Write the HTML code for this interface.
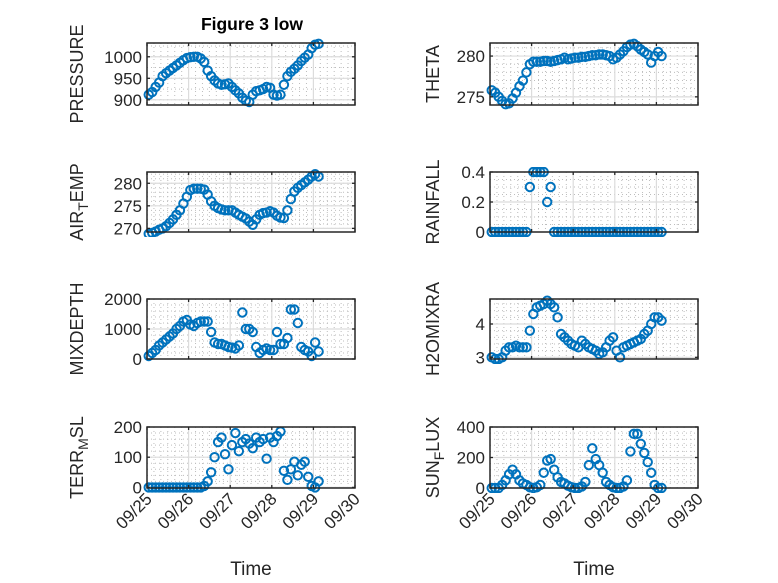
<!DOCTYPE html>
<html><head><meta charset="utf-8">
<style>
html,body{margin:0;padding:0;background:#fff;}
svg{display:block;font-family:"Liberation Sans",sans-serif;}
</style></head>
<body>
<svg id="fig" width="778" height="583" viewBox="0 0 778 583" xmlns="http://www.w3.org/2000/svg">
<rect width="778" height="583" fill="#fff"/>
<text x="252" y="30" text-anchor="middle" font-size="17.5" font-weight="bold" fill="#000">Figure 3 low</text>
</svg>
<script>
const hours = [1,3,5,7,9,11,13,15,17,19,21,23,25,27,29,31,33,35,37,39,41,43,45,47,49,51,53,55,57,59,61,63,65,67,69,71,73,75,77,79,81,83,85,87,89,91,93,95,97,99];
const xTickLabels = ["09/25","09/26","09/27","09/28","09/29","09/30"];
const pressure = [912,918,930,940,955,962,968,974,980,986,992,997,999,1000,1000,996,988,968,955,945,938,935,936,938,930,922,915,905,898,895,912,920,922,925,930,928,912,910,912,935,955,965,972,980,990,998,1005,1020,1028,1030];
const theta = [275.8,275.5,275,274.5,274.1,274.2,274.8,275.5,276.3,277,278,279,279.3,279.3,279.3,279.4,279.4,279.3,279.4,279.5,279.6,279.8,279.6,279.7,279.8,279.8,279.9,279.9,280,280.1,280.1,280.2,280.2,280.1,280,279.6,279.8,280.2,280.6,281.1,281.4,281.5,281.2,280.8,280.5,280.2,279.2,280,280.5,280];
const airTemp = [268.8,269,269.3,269.7,270,270.5,271.2,272,273,274,275.5,277,278.5,278.8,278.8,278.8,278.6,277.5,276,275,274.5,274.2,274,274,274,273.5,273,272.6,272.2,271.5,270.8,272,273,273.4,273.5,273.8,273.5,272.8,272.4,272.3,274,276.5,278.2,279,279.6,280.2,280.8,281.5,282,281.5];
const rainfall = [0,0,0,0,0,0,0,0,0,0,0,0.3,0.4,0.4,0.4,0.4,0.2,0.3,0,0,0,0,0,0,0,0,0,0,0,0,0,0,0,0,0,0,0,0,0,0,0,0,0,0,0,0,0,0,0,0];
const mixDepth = [100,200,300,450,550,650,750,850,1000,1100,1250,1300,1150,1100,1200,1250,1250,1250,900,550,500,500,450,400,380,350,450,1550,1000,1000,900,400,200,300,350,300,300,900,500,500,700,1650,1650,1200,400,300,250,100,550,250];
const h2oMix = [3.0,2.95,2.95,3.0,3.2,3.3,3.3,3.35,3.3,3.3,3.3,3.8,4.3,4.5,4.55,4.6,4.7,4.6,4.5,4.2,3.7,3.6,3.5,3.4,3.35,3.3,3.5,3.4,3.3,3.25,3.2,3.1,3.15,3.3,3.5,3.6,3.2,3.0,3.3,3.35,3.4,3.45,3.5,3.55,3.7,3.8,4.0,4.2,4.2,4.1];
const terrMsl = [0,0,0,0,0,0,0,0,0,0,0,0,0,0,0,0,5,20,50,100,150,165,110,60,140,180,120,150,160,145,130,165,150,160,95,165,150,170,185,55,25,60,85,40,75,85,35,5,0,20];
const sunFlux = [0,0,0,20,50,90,120,90,50,30,20,5,0,5,20,100,180,190,120,70,40,30,15,5,0,0,10,40,150,260,190,150,100,40,20,5,0,0,10,50,240,355,355,290,230,170,100,20,0,0];
const yTicksPressure = [900,950,1000];
const yTicksTheta = [275,280];
const yTicksAir = [270,275,280];
const yTicksRain = [0,0.2,0.4];
const yTicksMix = [0,1000,2000];
const yTicksH2o = [3,4];
const yTicksTerr = [0,100,200];
const yTicksSun = [0,200,400];

const NS = "http://www.w3.org/2000/svg";
const svg = document.getElementById('fig');
function mk(tag, attrs, parent){const e=document.createElementNS(NS,tag);for(const k in attrs)e.setAttribute(k,attrs[k]);(parent||svg).appendChild(e);return e;}

const panels = [
 {name:'pressure',label:[['PRESSURE','']],vals:pressure,ticks:yTicksPressure,ymin:888,ymax:1032,x0:147,x1:355,y0:43,y1:105,minorY:25},
 {name:'theta',label:[['THETA','']],vals:theta,ticks:yTicksTheta,ymin:274,ymax:281.6,x0:490,x1:698,y0:43,y1:105,minorY:1},
 {name:'air-temp',label:[['AIR',''],['T','sub'],['EMP','']],vals:airTemp,ticks:yTicksAir,ymin:269.2,ymax:282.5,x0:147,x1:355,y0:172,y1:232,minorY:1},
 {name:'rainfall',label:[['RAINFALL','']],vals:rainfall,ticks:yTicksRain,ymin:0,ymax:0.4,x0:490,x1:698,y0:172,y1:232,minorY:0.05},
 {name:'mixdepth',label:[['MIXDEPTH','']],vals:mixDepth,ticks:yTicksMix,ymin:0,ymax:2000,x0:147,x1:355,y0:299,y1:359,minorY:200},
 {name:'h2omixra',label:[['H2OMIXRA','']],vals:h2oMix,ticks:yTicksH2o,ymin:2.95,ymax:4.75,x0:490,x1:698,y0:299,y1:359,minorY:0.2},
 {name:'terr-msl',label:[['TERR',''],['M','sub'],['SL','']],vals:terrMsl,ticks:yTicksTerr,ymin:-2,ymax:200,x0:147,x1:355,y0:427,y1:488,minorY:20,bottom:true},
 {name:'sun-flux',label:[['SUN',''],['F','sub'],['LUX','']],vals:sunFlux,ticks:yTicksSun,ymin:0,ymax:400,x0:490,x1:698,y0:427,y1:488,minorY:40,bottom:true}
];

panels.forEach(p=>{
  const g = mk('g',{});
  
  
  const xs = d => p.x0 + (d/5)*(p.x1-p.x0);
  const ys = v => p.y1 - (v-p.ymin)/(p.ymax-p.ymin)*(p.y1-p.y0);
  mk('rect',{x:p.x0,y:p.y0,width:p.x1-p.x0,height:p.y1-p.y0,fill:'#fff'},g);
  for(let d=0; d<5; d+=1/6){ if(Math.abs(d-Math.round(d))<1e-6) continue;
    mk('line',{x1:xs(d),x2:xs(d),y1:p.y0,y2:p.y1,stroke:'#bdbdbd','stroke-width':1,'stroke-dasharray':'1,3'},g);}
  const start = Math.ceil(p.ymin/p.minorY)*p.minorY;
  for(let v=start; v<=p.ymax+1e-9; v+=p.minorY){
    mk('line',{x1:p.x0,x2:p.x1,y1:ys(v),y2:ys(v),stroke:'#bdbdbd','stroke-width':1,'stroke-dasharray':'1,3'},g);}
  for(let d=1; d<5; d++) mk('line',{x1:xs(d),x2:xs(d),y1:p.y0,y2:p.y1,stroke:'#dcdcdc','stroke-width':1.2},g);
  p.ticks.forEach(v=>mk('line',{x1:p.x0,x2:p.x1,y1:ys(v),y2:ys(v),stroke:'#dcdcdc','stroke-width':1.2},g));
  const clip = mk('clipPath',{id:'c-'+p.name},g);
  mk('rect',{x:p.x0-5,y:p.y0-5,width:p.x1-p.x0+10,height:p.y1-p.y0+10},clip);
  const dg = mk('g',{'clip-path':'url(#c-'+p.name+')'},g);
  p.vals.forEach((v,i)=>{
    const c = mk('circle',{cx:xs(hours[i]/24).toFixed(2),cy:ys(v).toFixed(2),r:4.2,fill:'none',stroke:'#0072BD','stroke-width':2},dg);
    
    
  });
  mk('rect',{x:p.x0,y:p.y0,width:p.x1-p.x0,height:p.y1-p.y0,fill:'none',stroke:'#262626','stroke-width':1.5},g);
  for(let d=0; d<=5; d++){
    mk('line',{x1:xs(d),x2:xs(d),y1:p.y1,y2:p.y1-3,stroke:'#262626','stroke-width':1.3},g);
    mk('line',{x1:xs(d),x2:xs(d),y1:p.y0,y2:p.y0+3,stroke:'#262626','stroke-width':1.3},g);
    if(p.bottom){
      const t = mk('text',{x:0,y:0,'text-anchor':'end','font-size':17,fill:'#262626',transform:`translate(${xs(d)+6},${p.y1+12}) rotate(-45)`},g);
      t.textContent = xTickLabels[d];
      
      
    }
  }
  p.ticks.forEach(v=>{
    mk('line',{x1:p.x0,x2:p.x0+3,y1:ys(v),y2:ys(v),stroke:'#262626','stroke-width':1.3},g);
    mk('line',{x1:p.x1,x2:p.x1-3,y1:ys(v),y2:ys(v),stroke:'#262626','stroke-width':1.3},g);
    const t = mk('text',{x:p.x0-5,y:ys(v)+6,'text-anchor':'end','font-size':17,fill:'#262626'},g);
    t.textContent = String(v);
    
    
  });
  const lx = p.x0 < 300 ? 83 : 439;
  const yl = mk('text',{x:0,y:0,'text-anchor':'middle','font-size':18,fill:'#262626',transform:`translate(${lx},${(p.y0+p.y1)/2}) rotate(-90)`},g);
  
  
  p.label.forEach(([s,k])=>{
    const ts = mk('tspan',{},yl);
    if(k==='sub'){ts.setAttribute('font-size','14');ts.setAttribute('dy','5');}
    else if(yl.childNodes.length>1){ts.setAttribute('dy','-5');}
    ts.textContent = s;
  });
  if(p.bottom){
    const xl = mk('text',{x:(p.x0+p.x1)/2,y:575,'text-anchor':'middle','font-size':19,fill:'#262626'},g);
    xl.textContent = 'Time';
    
    
  }
});
</script>
</body></html>
